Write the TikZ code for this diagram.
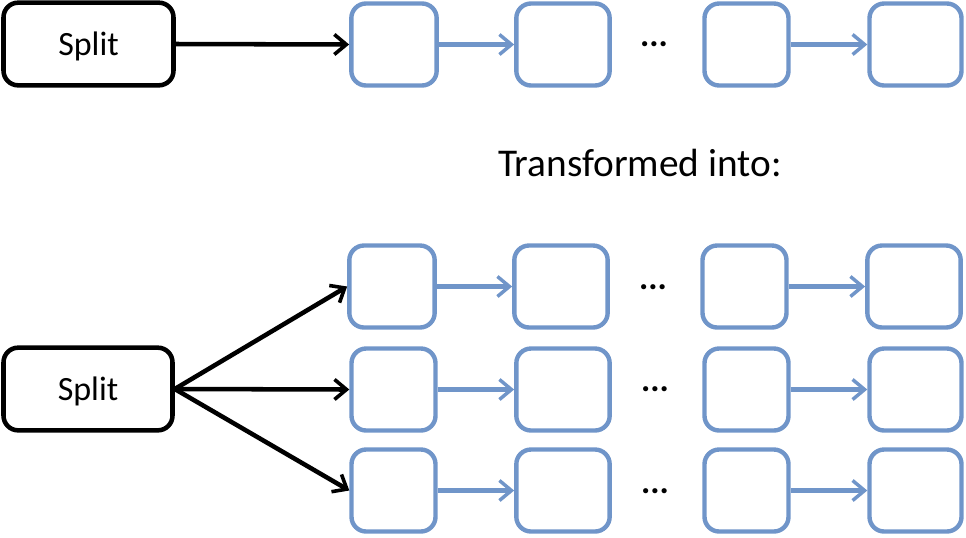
\documentclass[tikz,border=0pt]{standalone}
\usepackage{fontspec}
\setmainfont{Carlito}
\usetikzlibrary{arrows.meta}
\definecolor{boxblue}{RGB}{112,149,201}
\begin{document}
\begin{tikzpicture}[x=0.75pt,y=-0.75pt,
  splitbox/.style={draw=black,line width=3.4pt,rounded corners=11pt,inner sep=0pt,text depth=0pt,font=\fontsize{25.5}{28}\selectfont},
  bbox/.style={draw=boxblue,line width=3.3pt,rounded corners=11pt,inner sep=0pt,minimum height=61.5pt},
  blackarrow/.style={draw=black,line width=3.4pt,-{Straight Barb[length=9pt,width=15pt,line width=2.7pt]}},
  bluearrow/.style={draw=boxblue,line width=3.3pt,-{Straight Barb[length=9pt,width=15pt,line width=2.6pt]}},
  dotsnode/.style={font=\fontsize{26}{28}\selectfont\bfseries,inner sep=0pt}]
\useasboundingbox (0,0) rectangle (966,537);
% top
\node[splitbox,minimum width=127.5pt,minimum height=62pt] (s0) at (88.5,44) {Split};
\node[bbox,minimum width=64pt] (a1) at (394,44.5) {};
\node[bbox,minimum width=70pt] (a2) at (563,44.5) {};
\node[bbox,minimum width=63pt] (a3) at (746.5,44.5) {};
\node[bbox,minimum width=69pt] (a4) at (915.5,44.5) {};
\node[dotsnode] (ad) at (654,44) {...};
\draw[blackarrow] (s0.east) -- (a1.west);
\draw[bluearrow] (a1.east) -- (a2.west);
\draw[bluearrow] (a3.east) -- (a4.west);
\node[font=\fontsize{29.5}{34}\selectfont,inner sep=0pt] (t) at (640,163) {Transformed into:};
% bottom
\node[splitbox,minimum width=126.75pt,minimum height=62pt] (s1) at (88,389) {Split};
\node[bbox,minimum width=64pt] (b1) at (392,286.5) {};
\node[bbox,minimum width=70pt] (b2) at (561,286.5) {};
\node[bbox,minimum width=63pt] (b3) at (744.5,286.5) {};
\node[bbox,minimum width=70pt] (b4) at (914,286.5) {};
\node[dotsnode] (bd) at (653,287) {...};
\node[bbox,minimum width=63pt] (c1) at (393.5,389.5) {};
\node[bbox,minimum width=70pt] (c2) at (563,389.5) {};
\node[bbox,minimum width=63pt] (c3) at (746.5,389.5) {};
\node[bbox,minimum width=69pt] (c4) at (915.5,389.5) {};
\node[dotsnode] (cd) at (655,389) {...};
\node[bbox,minimum width=63pt] (d1) at (393.5,490.5) {};
\node[bbox,minimum width=70pt] (d2) at (563,490.5) {};
\node[bbox,minimum width=63pt] (d3) at (746.5,490.5) {};
\node[bbox,minimum width=69pt] (d4) at (915.5,490.5) {};
\node[dotsnode] (dd) at (655,491) {...};
\draw[blackarrow] (s1.east) -- (b1.west);
\draw[blackarrow] (s1.east) -- (c1.west);
\draw[blackarrow] (s1.east) -- (d1.west);
\draw[bluearrow] (b1.east) -- (b2.west);
\draw[bluearrow] (b3.east) -- (b4.west);
\draw[bluearrow] (c1.east) -- (c2.west);
\draw[bluearrow] (c3.east) -- (c4.west);
\draw[bluearrow] (d1.east) -- (d2.west);
\draw[bluearrow] (d3.east) -- (d4.west);
\end{tikzpicture}
\end{document}
